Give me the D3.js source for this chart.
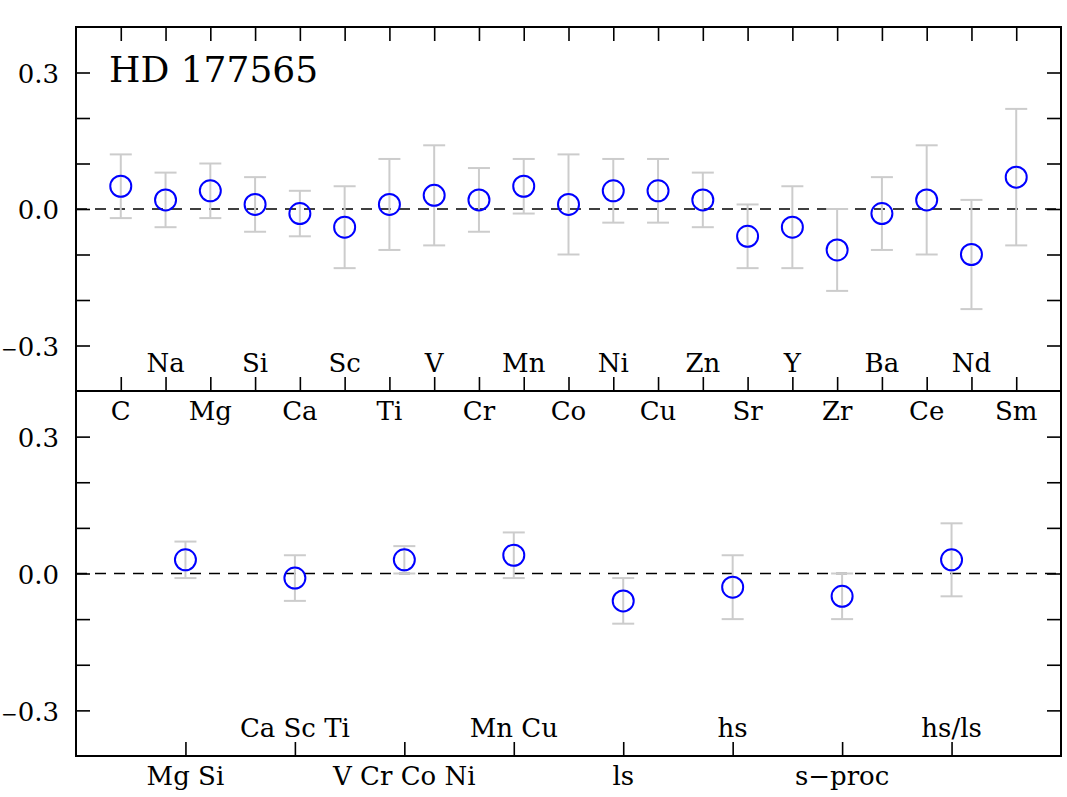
<!DOCTYPE html>
<html>
<head>
<meta charset="utf-8">
<script src="https://cdn.jsdelivr.net/npm/d3@7"></script>
<style>
  body { margin: 0; background: #fff; }
  svg text { font-family: "DejaVu Serif", serif; fill: #000; }
</style>
</head>
<body>
<div id="chart"></div>
<script>
// element abundance differences, top panel
var elements = ["C", "Na", "Mg", "Si", "Ca", "Sc", "Ti", "V", "Cr", "Mn", "Co",
  "Ni", "Cu", "Zn", "Sr", "Y", "Zr", "Ba", "Ce", "Nd", "Sm"];
var elementValues = [0.05, 0.02, 0.04, 0.01, -0.01, -0.04, 0.01, 0.03, 0.02, 0.05, 0.01,
  0.04, 0.04, 0.02, -0.06, -0.04, -0.09, -0.01, 0.02, -0.10, 0.07];
var elementErrors = [0.07, 0.06, 0.06, 0.06, 0.05, 0.09, 0.10, 0.11, 0.07, 0.06, 0.11,
  0.07, 0.07, 0.06, 0.07, 0.09, 0.09, 0.08, 0.12, 0.12, 0.15];

// grouped means, bottom panel
var groups = ["Mg Si", "Ca Sc Ti", "V Cr Co Ni", "Mn Cu", "ls", "hs", "s\u2212proc", "hs/ls"];
var groupValues = [0.03, -0.01, 0.03, 0.04, -0.06, -0.03, -0.05, 0.03];
var groupErrors = [0.04, 0.05, 0.03, 0.05, 0.05, 0.07, 0.05, 0.08];

var yTicks = [-0.3, -0.2, -0.1, 0.0, 0.1, 0.2, 0.3];
var yLabelled = [-0.3, 0.0, 0.3];
var starName = "HD 177565";

var W = 1067, H = 797;
var left = 76, right = 1061;
var tickLen = 14;

var svg = d3.select("#chart").append("svg")
  .attr("width", W)
  .attr("height", H);

function panel(top, bottom, names, values, errors, topTicks) {
  var x = d3.scaleLinear().domain([0, names.length + 1]).range([left, right]);
  var y = d3.scaleLinear().domain([-0.4, 0.4]).range([bottom, top]);
  var idx = d3.range(1, names.length + 1);

  var g = svg.append("g");

  // y axes, ticks inward
  var yl = g.append("g")
    .attr("transform", "translate(" + left + ",0)")
    .call(d3.axisLeft(y).tickValues(yTicks).tickSize(-tickLen).tickPadding(17).tickFormat(""));
  var yr = g.append("g")
    .attr("transform", "translate(" + right + ",0)")
    .call(d3.axisRight(y).tickValues(yTicks).tickSize(-tickLen).tickFormat(""));

  // labels on the left axis, smaller minus sign
  yl.selectAll(".tick text").each(function (d) {
    if (yLabelled.indexOf(d) < 0) return;
    var t = d3.select(this);
    if (d < 0) t.append("tspan").style("font-size", "20px").text("\u2212");
    t.append("tspan").text(Math.abs(d).toFixed(1));
  });

  // x ticks along bottom edge, pointing up
  var xb = g.append("g")
    .attr("transform", "translate(0," + bottom + ")")
    .call(d3.axisBottom(x).tickValues(idx).tickSize(-tickLen).tickFormat(""));
  var axes = [yl, yr, xb];
  if (topTicks) {
    axes.push(g.append("g")
      .attr("transform", "translate(0," + top + ")")
      .call(d3.axisTop(x).tickValues(idx).tickSize(-tickLen).tickFormat("")));
  }
  axes.forEach(function (a) {
    a.select(".domain").remove();
    a.selectAll("line").attr("stroke", "#000").attr("stroke-width", 1.6);
    a.selectAll("text").style("font-size", "26px").attr("dy", "0.38em");
  });

  // zero line
  g.append("line")
    .attr("x1", left).attr("x2", right)
    .attr("y1", y(0)).attr("y2", y(0))
    .attr("stroke", "#000")
    .attr("stroke-width", 1.6)
    .attr("stroke-dasharray", "11,8");

  // element labels, alternating below / above the bottom edge
  g.selectAll(".lab").data(names).enter().append("text")
    .attr("class", "lab")
    .attr("x", function (d, i) { return x(i + 1); })
    .attr("y", function (d, i) { return i % 2 === 0 ? bottom + 29 : bottom - 19; })
    .attr("text-anchor", "middle")
    .style("font-size", "26px")
    .text(function (d) { return d; });

  // error bars
  var eb = g.selectAll(".err").data(idx).enter().append("g")
    .attr("class", "err")
    .attr("stroke", "#cccccc")
    .attr("stroke-width", 2);
  eb.append("line")
    .attr("x1", function (d) { return x(d); })
    .attr("x2", function (d) { return x(d); })
    .attr("y1", function (d) { return y(values[d - 1] + errors[d - 1]); })
    .attr("y2", function (d) { return y(values[d - 1] - errors[d - 1]); });
  [1, -1].forEach(function (s) {
    eb.append("line")
      .attr("x1", function (d) { return x(d) - 11; })
      .attr("x2", function (d) { return x(d) + 11; })
      .attr("y1", function (d) { return y(values[d - 1] + s * errors[d - 1]); })
      .attr("y2", function (d) { return y(values[d - 1] + s * errors[d - 1]); });
  });

  // points
  g.selectAll(".pt").data(idx).enter().append("circle")
    .attr("class", "pt")
    .attr("cx", function (d) { return x(d); })
    .attr("cy", function (d) { return y(values[d - 1]); })
    .attr("r", 10.5)
    .attr("fill", "none")
    .attr("stroke", "#0000ff")
    .attr("stroke-width", 2);

  // frame
  g.append("rect")
    .attr("x", left).attr("y", top)
    .attr("width", right - left).attr("height", bottom - top)
    .attr("fill", "none")
    .attr("stroke", "#000")
    .attr("stroke-width", 2);

  return g;
}

var gTop = panel(27, 391, elements, elementValues, elementErrors, true);
panel(391, 756, groups, groupValues, groupErrors, false);

gTop.append("text")
  .attr("x", 109)
  .attr("y", 82)
  .style("font-size", "36px")
  .text(starName);
</script>
</body>
</html>
